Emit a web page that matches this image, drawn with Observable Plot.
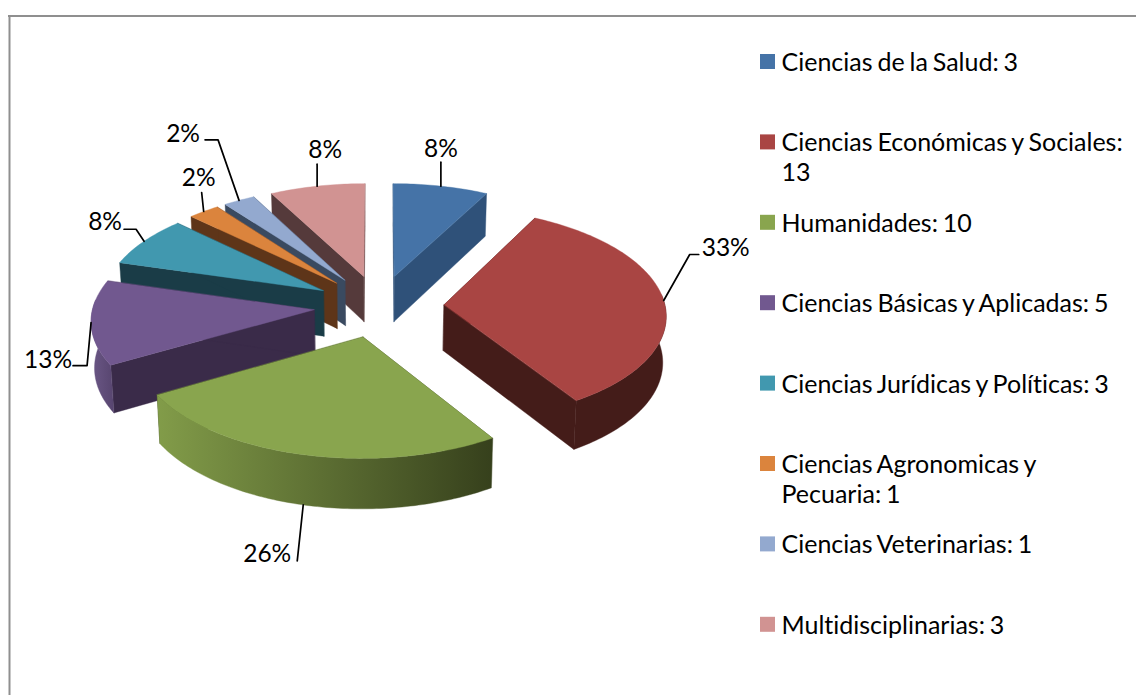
<!DOCTYPE html>
<html>
<head>
<meta charset="utf-8">
<style>html,body{margin:0;padding:0;background:#fff}svg{display:block}</style>
<script src="https://cdn.jsdelivr.net/npm/d3@7"></script>
<script src="https://cdn.jsdelivr.net/npm/@observablehq/plot@0.6"></script>
</head>
<body>
<script>
// ---- data ----
const categories = ["Ciencias de la Salud","Ciencias Económicas y Sociales","Humanidades","Ciencias Básicas y Aplicadas","Ciencias Jurídicas y Políticas","Ciencias Agronomicas y Pecuaria","Ciencias Veterinarias","Multidisciplinarias"];
const values = [3,13,10,5,3,1,1,3];
const percentShown = [8,33,26,13,8,2,2,8];
// ---- colours ----
const topColors  = ["#4573a7","#a94543","#89a54e","#71588f","#4198af","#db843d","#93a9cf","#d19392"];
const wallColors = ["#2f5179","#441c19","#36401c","#3a2b49","#1a3c47","#5e3519","#3a4a60","#553a3b"];
const rimFills   = ["#2f5179","#441c19","url(#rimGreen)","url(#rimPurple)","#1a3c47","#5e3519","#3a4a60","#553a3b"];
const paintOrder = [0,7,6,5,4,3,2,1];
// legend wrapping: where each entry breaks into a second line
const legendBreaks = {1:"Ciencias Económicas y Sociales:|13", 5:"Ciencias Agronomicas y|Pecuaria: 1"};
// leader elbows and label centres, relative to the slice's rim anchor
const leaderElbows = [[[0,-24]],[[26,-46],[35,-46]],[[-6,56]],[[-4,43],[-18,43]],[[-8,-12],[-20,-12]],[[-2,-19]],[[-21,-60.5],[-34,-60.5]],[[0,-22]]];
const labelOffsets = [[0,-37],[62,-52],[-36,49],[-43,37],[-39,-19],[-5,-33],[-56,-66],[8,-36]];

// ---- 3D pie geometry: a scene-wide perspective over the exploded disc ----
const W = 1136, H = 695;
const total = d3.sum(values);
const cx = 378.5, cy = 305.5, R = 221, A = 105.5, K = 0.085, D = 46, explode = 0.295, taper = 0.988;
function project(s, th, drop) {
  const a = explode * Math.sin(s.mid) + th.r * Math.sin(th.t);
  const b = -explode * Math.cos(s.mid) - th.r * Math.cos(th.t);
  const p = 1 / (1 - K * b);
  const x = R * a * p, y = A * b * p;
  return drop
    ? {x: cx + x * taper, y: cy + y + D * Math.pow(p, 0.8)}
    : {x: cx + x, y: cy + y};
}
const rim = (s, t, drop) => project(s, {r: 1, t}, drop);
const centre = (s, drop) => project(s, {r: 0, t: 0}, drop);
let cum = 0;
const slices = values.map((val, i) => {
  const a0 = cum / total * 2 * Math.PI; cum += val;
  const a1 = cum / total * 2 * Math.PI;
  return {i, val, a0, a1, mid: (a0 + a1) / 2};
});
const polys = [];
let pid = 0;
function addPoly(pts, color) {
  const z = pid++;
  pts.forEach(p => polys.push({x: p.x, y: p.y, z, color}));
}
for (const k of paintOrder) {
  const s = slices[k], o = centre(s), below = centre(s, true);
  const n = Math.max(6, Math.ceil((s.a1 - s.a0) * 180 / Math.PI));
  const arc = d3.range(n + 1).map(j => s.a0 + (s.a1 - s.a0) * j / n);
  // radial walls
  addPoly([o, rim(s, s.a0), rim(s, s.a0, true), below], wallColors[k]);
  addPoly([o, rim(s, s.a1), rim(s, s.a1, true), below], wallColors[k]);
  // rim: only the part facing the viewer, so its bounding box matches the visible band
  const vis = arc.filter(a => -Math.cos(a) > -0.1);
  if (vis.length > 1) addPoly([...vis.map(a => rim(s, a)), ...vis.slice().reverse().map(a => rim(s, a, true))], rimFills[k]);
  // top face
  addPoly([o, ...arc.map(a => rim(s, a))], topColors[k]);
}

// ---- leaders and percentage labels ----
const leaders = [], pctLabels = [];
slices.forEach(s => {
  const front = -Math.cos(s.mid) > 0.3;
  const a = rim(s, s.mid, front);
  [[0, 0], ...leaderElbows[s.i]].forEach(d => leaders.push({x: a.x + d[0], y: a.y + d[1], i: s.i}));
  pctLabels.push({x: a.x + labelOffsets[s.i][0], y: a.y + labelOffsets[s.i][1], t: percentShown[s.i] + "%"});
});

// ---- legend ----
const legendX = 760, legendTop = 61.5, legendStep = 80.4, swatch = 15, lineGap = 30;
const legendRows = [], legendSwatches = [];
categories.forEach((c, i) => {
  const y = legendTop + i * legendStep;
  legendSwatches.push({y, color: topColors[i]});
  (legendBreaks[i] || `${c}: ${values[i]}`).split("|").forEach((t, j) => legendRows.push({t, y: y + 1 + j * lineGap}));
});

// gradient definitions for the shaded rims
const defs = () => {
  const svgNS = "http://www.w3.org/2000/svg";
  const d = document.createElementNS(svgNS, "defs");
  const grad = (id, from, to) => {
    const g = document.createElementNS(svgNS, "linearGradient");
    g.setAttribute("id", id);
    [[0, from], [1, to]].forEach(([o, c]) => {
      const st = document.createElementNS(svgNS, "stop");
      st.setAttribute("offset", o); st.setAttribute("stop-color", c);
      g.appendChild(st);
    });
    d.appendChild(g);
  };
  grad("rimGreen", "#829c49", "#36401c");
  grad("rimPurple", "#6b5786", "#57456f");
  return d;
};

const font = "Lato, Carlito, Calibri, sans-serif";
const plot = Plot.plot({
  width: W, height: H,
  margin: 0,
  x: {domain: [0, W], range: [0, W], axis: null},
  y: {domain: [0, H], range: [0, H], axis: null},
  color: {type: "identity"},
  style: {background: "#fff", fontFamily: font, fontVariantLigatures: "none", wordSpacing: "-1.5px"},
  marks: [
    defs,
    Plot.ruleX([9], {y1: 15, y2: H, stroke: "#8f8f8f", strokeWidth: 2}),
    Plot.ruleY([15.5], {x1: 8, x2: W, stroke: "#8f8f8f", strokeWidth: 2}),
    Plot.line(polys, {x: "x", y: "y", z: "z", fill: "color", stroke: "color", strokeWidth: 0.4, curve: "linear-closed"}),
    Plot.line(leaders, {x: "x", y: "y", z: "i", stroke: "#000", strokeWidth: 1.7}),
    Plot.text(pctLabels, {x: "x", y: "y", text: "t", fontSize: 24.5, fill: "#000", textAnchor: "middle", lineAnchor: "middle"}),
    Plot.rect(legendSwatches, {x1: () => legendX, x2: () => legendX + swatch, y1: d => d.y - swatch / 2, y2: d => d.y + swatch / 2, fill: "color"}),
    Plot.text(legendRows, {x: () => legendX + 21, y: "y", text: "t", fontSize: 25, fill: "#000", textAnchor: "start", lineAnchor: "middle"})
  ]
});
document.body.appendChild(plot);
</script>
</body>
</html>
